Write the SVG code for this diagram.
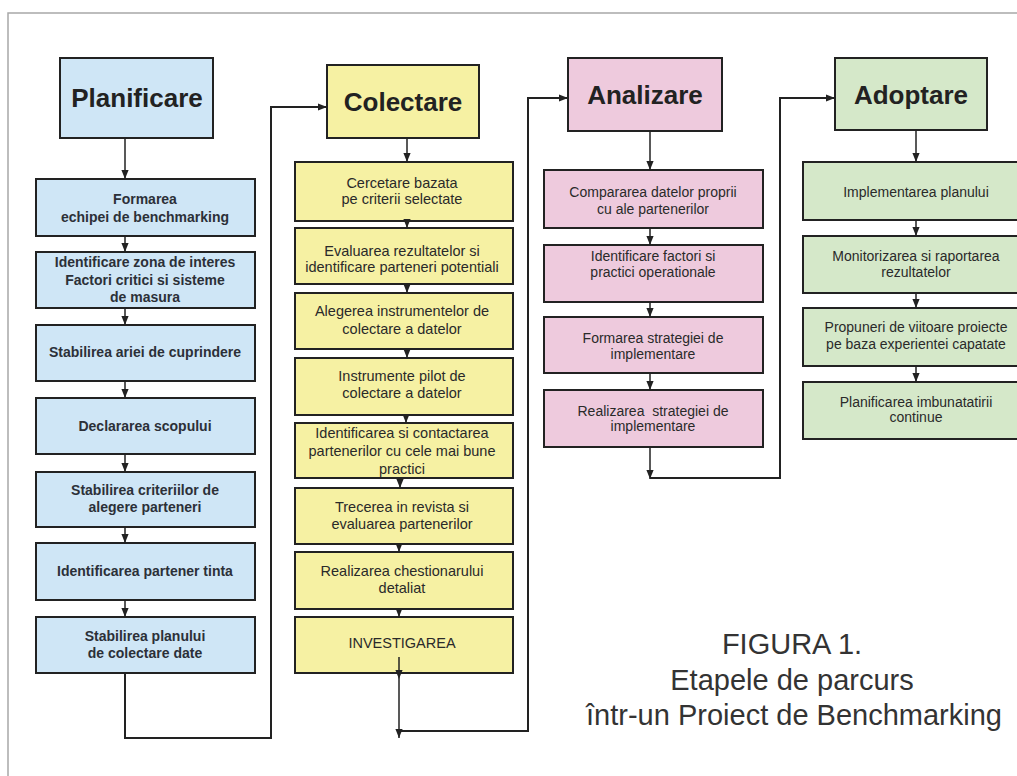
<svg xmlns="http://www.w3.org/2000/svg" width="1017" height="776" viewBox="0 0 1017 776">
<defs>
<marker id="ah" viewBox="0 0 10 10" refX="10" refY="5" markerWidth="9" markerHeight="9" markerUnits="userSpaceOnUse" orient="auto"><path d="M0,1 L10,5 L0,9 z" fill="#222"/></marker>
<style>
.b{fill:#cfe6f6;stroke:#222;stroke-width:2}
.y{fill:#f6f1a3;stroke:#222;stroke-width:2}
.p{fill:#eecadd;stroke:#222;stroke-width:2}
.g{fill:#d5e8c9;stroke:#222;stroke-width:2}
.h{font-family:"Liberation Sans",Arial,sans-serif;font-weight:bold;font-size:26px;fill:#222;text-anchor:middle}
.tb{font-family:"Liberation Sans",Arial,sans-serif;font-weight:bold;font-size:14px;fill:#2c3038;text-anchor:middle}
.ty{font-family:"Liberation Sans",Arial,sans-serif;font-size:14.5px;fill:#2a2a2a;text-anchor:middle}
.t{font-family:"Liberation Sans",Arial,sans-serif;font-size:14px;fill:#2a2a2a;text-anchor:middle}
.cap{font-family:"Liberation Sans",Arial,sans-serif;font-size:29px;fill:#333;text-anchor:middle}
.c{fill:none;stroke:#222;stroke-width:2}
.s{fill:none;stroke:#222;stroke-width:1.5}
</style>
</defs>
<rect width="1017" height="776" fill="#fff"/>
<path d="M8,776 V13 H1017" fill="none" stroke="#a8a8a8" stroke-width="1.5"/>

<g id="planificare"><rect class="b" x="60" y="58" width="153" height="80"/><text class="h" x="137" y="107">Planificare</text></g>
<g id="p1"><rect class="b" x="36" y="179" width="219" height="57"/><text class="tb" x="145" y="204">Formarea</text><text class="tb" x="145" y="222">echipei de benchmarking</text></g>
<g id="p2"><rect class="b" x="36" y="252" width="219" height="56"/><text class="tb" x="145" y="267">Identificare zona de interes</text><text class="tb" x="145" y="285">Factori critici si sisteme</text><text class="tb" x="145" y="302">de masura</text></g>
<g id="p3"><rect class="b" x="36" y="325" width="219" height="56"/><text class="tb" x="145" y="357">Stabilirea ariei de cuprindere</text></g>
<g id="p4"><rect class="b" x="36" y="398" width="219" height="56"/><text class="tb" x="145" y="431">Declararea scopului</text></g>
<g id="p5"><rect class="b" x="36" y="472" width="219" height="55"/><text class="tb" x="145" y="495">Stabilirea criteriilor de</text><text class="tb" x="145" y="512">alegere parteneri</text></g>
<g id="p6"><rect class="b" x="36" y="543" width="219" height="57"/><text class="tb" x="145" y="576">Identificarea partener tinta</text></g>
<g id="p7"><rect class="b" x="36" y="617" width="219" height="56"/><text class="tb" x="145" y="641">Stabilirea planului</text><text class="tb" x="145" y="658">de colectare date</text></g>

<g id="colectare"><rect class="y" x="327" y="65" width="152" height="73"/><text class="h" x="403" y="111">Colectare</text></g>
<g id="c1"><rect class="y" x="295" y="162" width="218" height="59"/><text class="ty" x="402" y="188">Cercetare bazata</text><text class="ty" x="402" y="204">pe criterii selectate</text></g>
<g id="c2"><rect class="y" x="295" y="228" width="218" height="56"/><text class="ty" x="402" y="256">Evaluarea rezultatelor si</text><text class="ty" x="402" y="272">identificare parteneri potentiali</text></g>
<g id="c3"><rect class="y" x="295" y="293" width="218" height="56"/><text class="ty" x="402" y="316">Alegerea instrumentelor de</text><text class="ty" x="402" y="334">colectare a datelor</text></g>
<g id="c4"><rect class="y" x="295" y="358" width="218" height="57"/><text class="ty" x="402" y="381">Instrumente pilot de</text><text class="ty" x="402" y="398">colectare a datelor</text></g>
<g id="c5"><rect class="y" x="295" y="423" width="218" height="55"/><text class="ty" x="402" y="438">Identificarea si contactarea</text><text class="ty" x="402" y="456">partenerilor cu cele mai bune</text><text class="ty" x="402" y="474">practici</text></g>
<g id="c6"><rect class="y" x="295" y="488" width="218" height="56"/><text class="ty" x="402" y="512">Trecerea in revista si</text><text class="ty" x="402" y="529">evaluarea partenerilor</text></g>
<g id="c7"><rect class="y" x="295" y="552" width="218" height="57"/><text class="ty" x="402" y="576">Realizarea chestionarului</text><text class="ty" x="402" y="593">detaliat</text></g>
<g id="c8"><rect class="y" x="295" y="617" width="218" height="56"/><text class="ty" x="402" y="648">INVESTIGAREA</text></g>

<g id="analizare"><rect class="p" x="568" y="58" width="154" height="73"/><text class="h" x="645" y="104">Analizare</text></g>
<g id="a1"><rect class="p" x="544" y="170" width="219" height="58"/><text class="t" x="653" y="197">Compararea datelor proprii</text><text class="t" x="653" y="214">cu ale partenerilor</text></g>
<g id="a2"><rect class="p" x="544" y="245" width="219" height="57"/><text class="t" x="653" y="261">Identificare factori si</text><text class="t" x="653" y="277">practici operationale</text></g>
<g id="a3"><rect class="p" x="544" y="317" width="219" height="56"/><text class="t" x="653" y="343">Formarea strategiei de</text><text class="t" x="653" y="359">implementare</text></g>
<g id="a4"><rect class="p" x="544" y="390" width="219" height="57"/><text class="t" x="653" y="416" xml:space="preserve">Realizarea  strategiei de</text><text class="t" x="653" y="431">implementare</text></g>

<g id="adoptare"><rect class="g" x="835" y="58" width="152" height="72"/><text class="h" x="911" y="104">Adoptare</text></g>
<g id="d1"><rect class="g" x="803" y="162" width="226" height="58"/><text class="t" x="916" y="197">Implementarea planului</text></g>
<g id="d2"><rect class="g" x="803" y="236" width="226" height="57"/><text class="t" x="916" y="261">Monitorizarea si raportarea</text><text class="t" x="916" y="277">rezultatelor</text></g>
<g id="d3"><rect class="g" x="803" y="308" width="226" height="58"/><text class="t" x="916" y="332">Propuneri de viitoare proiecte</text><text class="t" x="916" y="349">pe baza experientei capatate</text></g>
<g id="d4"><rect class="g" x="803" y="382" width="226" height="57"/><text class="t" x="916" y="407">Planificarea imbunatatirii</text><text class="t" x="916" y="422">continue</text></g>

<g id="connectors">
<path class="s" d="M125,138 V179" marker-end="url(#ah)"/>
<path class="s" d="M125,236 V252" marker-end="url(#ah)"/>
<path class="s" d="M125,308 V325" marker-end="url(#ah)"/>
<path class="s" d="M125,381 V398" marker-end="url(#ah)"/>
<path class="s" d="M125,454 V472" marker-end="url(#ah)"/>
<path class="s" d="M125,527 V543" marker-end="url(#ah)"/>
<path class="s" d="M125,600 V617" marker-end="url(#ah)"/>
<path class="c" d="M125,673 V738 H271 V107 H327" marker-end="url(#ah)"/>

<path class="s" d="M407,138 V162" marker-end="url(#ah)"/>
<path class="s" d="M407,221 V228" marker-end="url(#ah)"/>
<path class="s" d="M407,284 V293" marker-end="url(#ah)"/>
<path class="s" d="M407,349 V358" marker-end="url(#ah)"/>
<path class="s" d="M406,415 V423" marker-end="url(#ah)"/>
<path class="s" d="M400,478 V488" marker-end="url(#ah)"/>
<path class="s" d="M399,544 V552" marker-end="url(#ah)"/>
<path class="s" d="M399,609 V617" marker-end="url(#ah)"/>
<path class="s" d="M399,657 V679" marker-end="url(#ah)"/>
<path class="s" d="M399,679 V738" marker-end="url(#ah)"/>
<path class="c" d="M399,731 H528 V98 H568" marker-end="url(#ah)"/>

<path class="s" d="M650,131 V170" marker-end="url(#ah)"/>
<path class="s" d="M650,228 V245" marker-end="url(#ah)"/>
<path class="s" d="M650,302 V317" marker-end="url(#ah)"/>
<path class="s" d="M650,373 V390" marker-end="url(#ah)"/>
<path class="s" d="M650,447 V479" marker-end="url(#ah)"/>
<path class="c" d="M650,478 H780 V98 H835" marker-end="url(#ah)"/>

<path class="s" d="M916,130 V162" marker-end="url(#ah)"/>
<path class="s" d="M916,220 V236" marker-end="url(#ah)"/>
<path class="s" d="M916,293 V308" marker-end="url(#ah)"/>
<path class="s" d="M916,366 V382" marker-end="url(#ah)"/>
</g>

<g id="caption">
<text class="cap" x="792" y="654">FIGURA 1.</text>
<text class="cap" x="792" y="690">Etapele de parcurs</text>
<text class="cap" x="794" y="725">într-un Proiect de Benchmarking</text>
</g>
</svg>
